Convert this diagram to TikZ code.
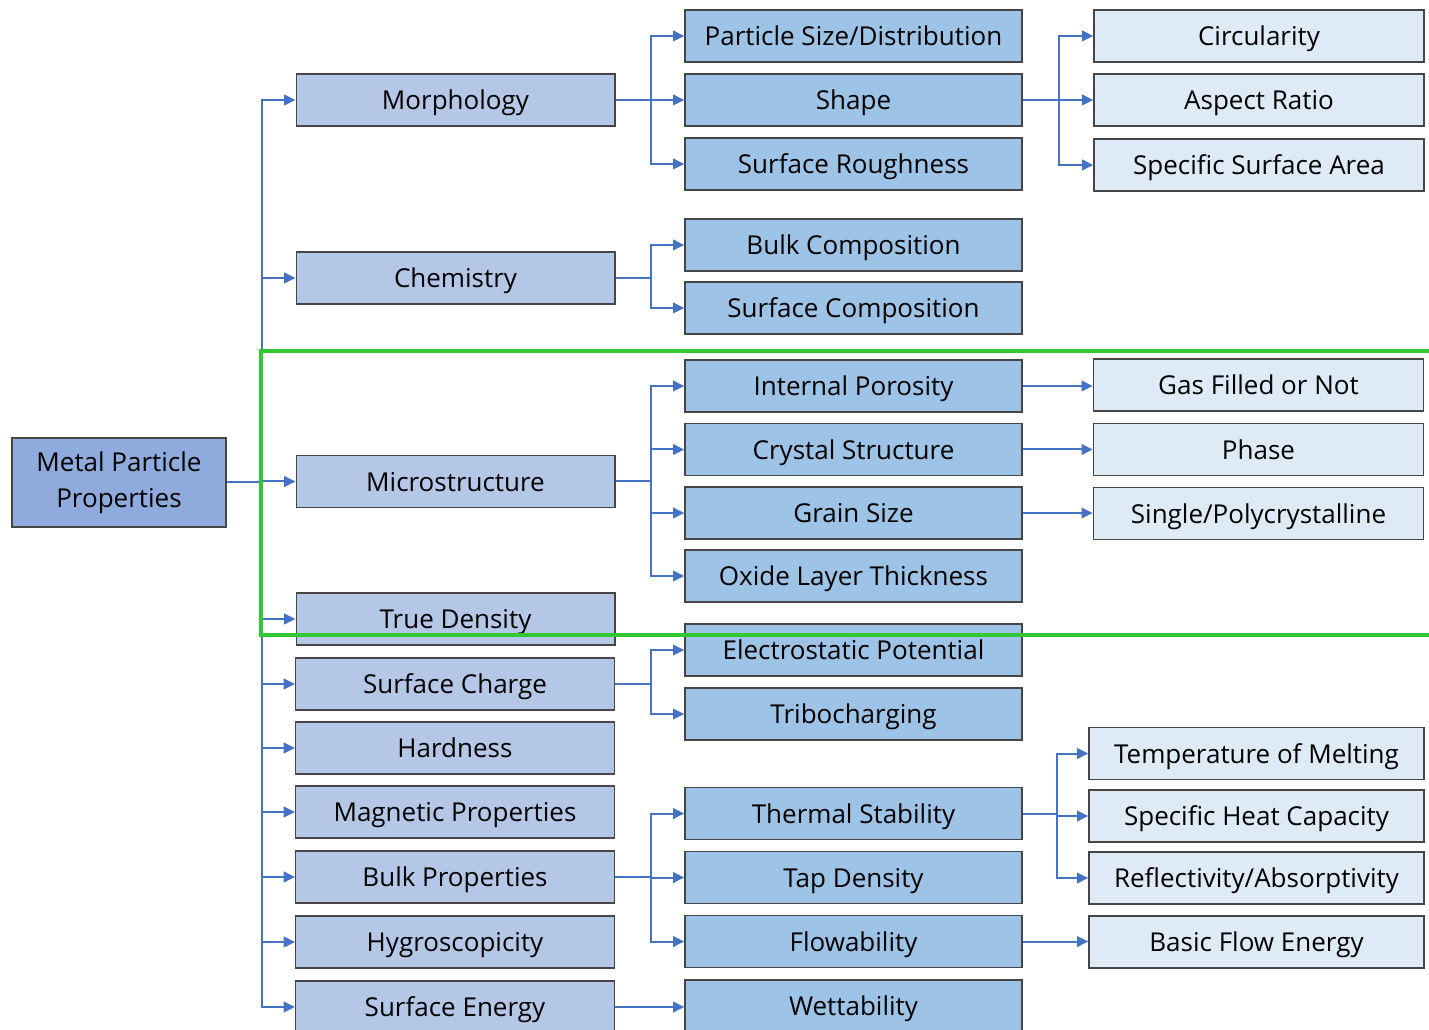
\documentclass[tikz,border=0pt]{standalone}
\usepackage{fontspec}
\setmainfont{Open Sans}
\usetikzlibrary{arrows.meta}
\definecolor{rootfill}{RGB}{143,170,220}
\definecolor{propfill}{RGB}{180,199,231}
\definecolor{subfill}{RGB}{157,195,230}
\definecolor{leaffill}{RGB}{222,235,247}
\definecolor{boxline}{RGB}{70,70,70}
\definecolor{linkblue}{RGB}{68,114,196}
\definecolor{framegreen}{RGB}{50,200,50}
\tikzset{
  base/.style={draw=boxline,line width=1pt,inner sep=0pt,
    font=\fontsize{19.5}{27}\selectfont},
  onerow/.style={base,text height=18.5pt,text depth=4pt},
  rootbox/.style={base,align=center,fill=rootfill,minimum width=160.5pt,minimum height=66.75pt},
  propbox/.style={onerow,fill=propfill,minimum width=239pt,minimum height=39pt},
  subbox/.style={onerow,fill=subfill,minimum width=252.75pt,minimum height=39pt},
  leafbox/.style={onerow,fill=leaffill,minimum width=247.5pt,minimum height=39pt},
  link/.style={draw=linkblue,line width=1.5pt,-{Triangle[length=8.5pt,width=8pt]}}
}

\begin{document}
\begin{tikzpicture}[x=0.75pt,y=-0.75pt]
  \useasboundingbox (0,0) rectangle (1429,1030);
  \clip (0,0) rectangle (1429,1030);
  % root
  \node[rootbox] (metal) at (119,482.5) {Metal Particle\\Properties};
  % first level
  \node[propbox] (morph)    at (455.5,100) {Morphology};
  \node[propbox] (chem)     at (455.5,278) {Chemistry};
  \node[propbox] (micro)    at (455.5,481.5) {Microstructure};
  \node[propbox] (truedens) at (455.5,619) {True Density};
  \node[propbox] (scharge)  at (455,684) {Surface Charge};
  \node[propbox] (hard)     at (455,748) {Hardness};
  \node[propbox] (magnet)   at (455,812) {Magnetic Properties};
  \node[propbox] (bulk)     at (455,877) {Bulk Properties};
  \node[propbox] (hygro)    at (455,942) {Hygroscopicity};
  \node[propbox] (senergy)  at (455,1007) {Surface Energy};
  % second level
  \node[subbox] (psd)      at (853.5,36) {Particle Size/Distribution};
  \node[subbox] (shape)    at (853.5,100) {Shape};
  \node[subbox] (rough)    at (853.5,164) {Surface Roughness};
  \node[subbox] (bulkcomp) at (853.5,245) {Bulk Composition};
  \node[subbox] (surfcomp) at (853.5,308) {Surface Composition};
  \node[subbox] (porosity) at (853.5,386) {Internal Porosity};
  \node[subbox] (crystal)  at (853.5,449.5) {Crystal Structure};
  \node[subbox] (grain)    at (853.5,513) {Grain Size};
  \node[subbox] (oxide)    at (853.5,576) {Oxide Layer Thickness};
  \node[subbox] (electro)  at (853.5,650) {Electrostatic Potential};
  \node[subbox] (tribo)    at (853.5,714) {Tribocharging};
  \node[subbox] (thermal)  at (853.5,813.5) {Thermal Stability};
  \node[subbox] (tap)      at (853.5,877.5) {Tap Density};
  \node[subbox] (flow)     at (853.5,941.5) {Flowability};
  \node[subbox] (wett)     at (853.5,1006) {Wettability};
  % third level
  \node[leafbox] (circ)    at (1259,36) {Circularity};
  \node[leafbox] (aspect)  at (1259,100) {Aspect Ratio};
  \node[leafbox] (ssa)     at (1259,165) {Specific Surface Area};
  \node[leafbox] (gas)     at (1258.5,385) {Gas Filled or Not};
  \node[leafbox] (phase)   at (1258.5,449.5) {Phase};
  \node[leafbox] (poly)    at (1258.5,513.5) {Single/Polycrystalline};
  \node[leafbox,minimum width=251.25pt] (tmelt)   at (1256.5,753.5) {Temperature of Melting};
  \node[leafbox,minimum width=251.25pt] (heat)    at (1256.5,816) {Specific Heat Capacity};
  \node[leafbox,minimum width=251.25pt] (reflect) at (1256.5,878) {Reflectivity/Absorptivity};
  \node[leafbox,minimum width=251.25pt] (bfe)     at (1256.5,942) {Basic Flow Energy};

  % trunk
  \foreach \child in {morph,chem,micro,truedens,scharge,hard,magnet,bulk,hygro,senergy}
    \draw[link] (metal.east) -- ++(35,0) |- (\child.west);
  % morphology and chemistry
  \foreach \child in {psd,shape,rough}
    \draw[link] (morph.east) -- ++(35,0) |- (\child.west);
  \foreach \child in {bulkcomp,surfcomp}
    \draw[link] (chem.east) -- ++(35,0) |- (\child.west);
  \foreach \child in {circ,aspect,ssa}
    \draw[link] (shape.east) -- ++(36,0) |- (\child.west);
  % microstructure
  \foreach \child in {porosity,crystal,grain,oxide}
    \draw[link] (micro.east) -- ++(35,0) |- (\child.west);
  \draw[link] (porosity.east) -- (porosity.east -| gas.west);
  \draw[link] (crystal.east) -- (crystal.east -| phase.west);
  \draw[link] (grain.east) -- (grain.east -| poly.west);
  % charge, bulk, energy
  \foreach \child in {electro,tribo}
    \draw[link] (scharge.east) -- ++(36,0) |- (\child.west);
  \foreach \child in {thermal,tap,flow}
    \draw[link] (bulk.east) -- ++(36,0) |- (\child.west);
  \foreach \child in {tmelt,heat,reflect}
    \draw[link] (thermal.east) -- ++(34,0) |- (\child.west);
  \draw[link] (flow.east) -- (flow.east -| bfe.west);
  \draw[link] (senergy.east) -- (senergy.east -| wett.west);

  % highlight frame
  \draw[framegreen,line width=3.5pt] (1440,351) -- (261,351) -- (261,635) -- (1440,635);
\end{tikzpicture}
\end{document}
